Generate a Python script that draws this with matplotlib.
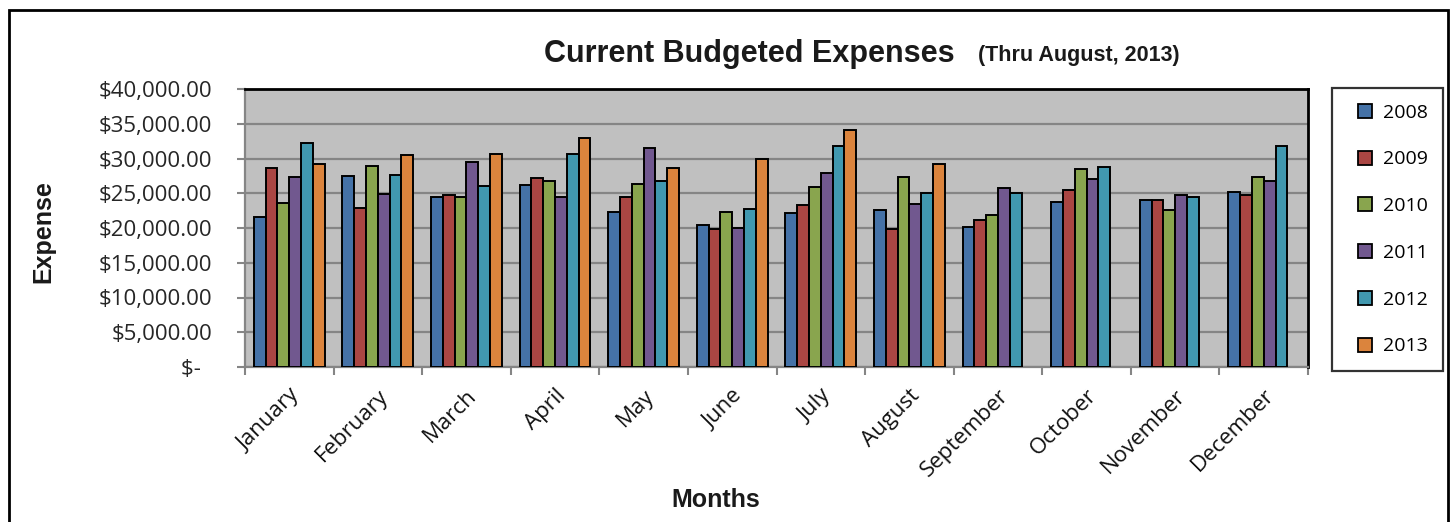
import numpy as np
import matplotlib
matplotlib.use("Agg")
from matplotlib import pyplot as plt
from matplotlib.lines import Line2D
from matplotlib.patches import Rectangle
from matplotlib.ticker import FuncFormatter, FixedLocator

# ---- data ----
months = ["January", "February", "March", "April", "May", "June", "July",
          "August", "September", "October", "November", "December"]
years = ["2008", "2009", "2010", "2011", "2012", "2013"]

exp_2008 = [21600, 27500, 24500, 26200, 22300, 20400, 22200, 22600, 20200, 23800, 24100, 25200]
exp_2009 = [28700, 22900, 24800, 27200, 24500, 19800, 23300, 19800, 21100, 25500, 24100, 24800]
exp_2010 = [23600, 28900, 24500, 26800, 26400, 22300, 25900, 27400, 21800, 28500, 22600, 27400]
exp_2011 = [27300, 24900, 29500, 24400, 31500, 20000, 27900, 23400, 25700, 27100, 24700, 26700]
exp_2012 = [32300, 27600, 26100, 30600, 26700, 22700, 31800, 25100, 25100, 28800, 24400, 31800]
exp_2013 = [29200, 30500, 30600, 32900, 28600, 29900, 34100, 29200, np.nan, np.nan, np.nan, np.nan]

series = [exp_2008, exp_2009, exp_2010, exp_2011, exp_2012, exp_2013]
colors = ["#4572A7", "#AA4643", "#89A54E", "#71588F", "#4198AF", "#DB843D"]

W, H = 1450, 522
fig = plt.figure(figsize=(W / 100, H / 100), dpi=100)

tick_font = "Open Sans"
head_font = "Liberation Sans"
px = 72 / 100   # one pixel in points

# plot area in pixel coords: x 245..1308, y 89..367
ax = fig.add_axes([245 / W, 1 - 367 / H, (1308 - 245) / W, (367 - 89) / H])
ax.set_facecolor("#C0C0C0")

n = len(series)
bw = 1 / (n + 1.5)       # Excel gap width 150%
x = np.arange(len(months))
for j, (vals, c) in enumerate(zip(series, colors)):
    ax.bar(x + (j - (n - 1) / 2) * bw, vals, width=bw, color=c,
           edgecolor="black", linewidth=1.4, zorder=3)

ax.set_xlim(-0.5, len(months) - 0.5)
ax.set_ylim(0, 40000)

# gridlines
ax.yaxis.set_major_locator(FixedLocator(np.arange(0, 40001, 5000)))
ax.grid(axis="y", color="#858585", linewidth=1.6, zorder=1)
ax.set_axisbelow(True)


def money(v, pos):
    if v == 0:
        return "$-  "
    return f"${v:,.2f}"


ax.yaxis.set_major_formatter(FuncFormatter(money))
ax.tick_params(axis="y", direction="out", length=8 * px, width=1.5,
               color="#858585", pad=25 * px, labelsize=16,
               labelcolor="#262626")

# x: labels at centers, tick marks at category boundaries
ax.set_xticks(x)
ax.set_xticklabels(months, rotation=45, ha="right", rotation_mode="anchor")
ax.set_xticks(np.arange(-0.5, len(months)), minor=True)
ax.tick_params(axis="x", which="major", length=0, pad=13, labelsize=16,
               labelcolor="#111111")
ax.tick_params(axis="x", which="minor", direction="out", length=8 * px,
               width=1.5, color="#858585")

for lab in ax.get_xticklabels() + ax.get_yticklabels():
    lab.set_fontfamily(tick_font)

ax.spines["left"].set_color("#858585")
ax.spines["bottom"].set_color("#858585")
ax.spines["left"].set_linewidth(1.6)
ax.spines["bottom"].set_linewidth(1.6)
ax.spines["top"].set_color("black")
ax.spines["right"].set_color("black")
ax.spines["top"].set_linewidth(2)
ax.spines["right"].set_linewidth(2)

# titles and axis labels
fig.text(749 / W, 1 - 62 / H, "Current Budgeted Expenses", ha="center",
         va="baseline", fontsize=22, fontweight="bold", family=head_font,
         color="#1a1a1a")
fig.text(978 / W, 1 - 61 / H, "(Thru August, 2013)", ha="left",
         va="baseline", fontsize=15.5, fontweight="bold", family=head_font,
         color="#1a1a1a")
fig.text(43 / W, 1 - 232 / H, "Expense", rotation=90, ha="center",
         va="center", fontsize=18, fontweight="bold", family=head_font,
         color="#1a1a1a")
fig.text(716 / W, 1 - 500 / H, "Months", ha="center", va="center",
         fontsize=18, fontweight="bold", family=head_font, color="#1a1a1a")

# legend (square markers centred in a wider handle box)
handles = [Line2D([], [], linestyle="none", marker="s", markersize=10,
                  markerfacecolor=c, markeredgecolor="black",
                  markeredgewidth=1.3) for c in colors]
leg = fig.legend(handles, years, loc="upper left",
                 bbox_to_anchor=(1332 / W, 1 - 88 / H), borderaxespad=0,
                 frameon=True, fancybox=False, shadow=False,
                 handlelength=1.8, handletextpad=0.0,
                 labelspacing=1.48, borderpad=0.8,
                 prop={"family": tick_font, "size": 14})
leg.get_frame().set_edgecolor("black")
leg.get_frame().set_linewidth(1.6)

# outer chart border
fig.patches.append(Rectangle((9 / W, -0.1), (1448 - 9) / W, 1.1 - 10 / H,
                             transform=fig.transFigure, fill=False,
                             edgecolor="black", linewidth=2))

fig.savefig("out.png", dpi=100)
